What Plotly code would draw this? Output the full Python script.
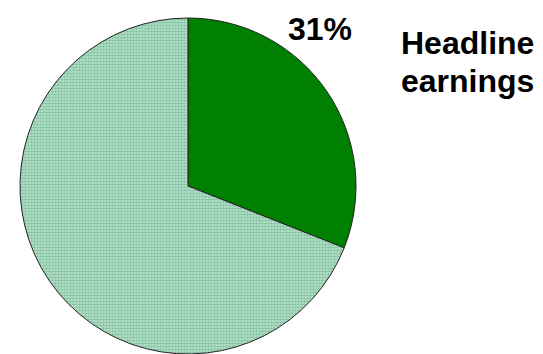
import plotly.graph_objects as go

labels = ["Headline earnings", "Other"]
values = [31, 69]
colors = ["#008000", "#c2e6d2"]
pct_label = "31%"
legend_lines = ["Headline", "earnings"]

W, H = 543, 354
fig = go.Figure(go.Pie(
    labels=labels, values=values, sort=False, direction="clockwise", rotation=0,
    marker=dict(colors=colors, line=dict(color="#222222", width=1),
                pattern=dict(shape=["", "."], fgcolor="#45a06f", size=3, solidity=0.6,
                             fillmode="overlay")),
    textinfo="none", hoverinfo="label+percent", showlegend=False,
    domain=dict(x=[20 / W, 356 / W], y=[0, 336 / H]),
))
font = dict(family="Liberation Sans, Arial", size=32, color="black")
fig.add_annotation(x=320 / W, y=1 - 28.5 / H, xref="paper", yref="paper",
                   text=f"<b>{pct_label}</b>", showarrow=False, font=font,
                   xanchor="center", yanchor="middle")
for i, line in enumerate(legend_lines):
    fig.add_annotation(x=467 / W, y=1 - (43 + 38 * i) / H, xref="paper", yref="paper",
                       text=f"<b>{line}</b>", showarrow=False, font=font,
                       xanchor="center", yanchor="middle")
fig.update_layout(width=W, height=H, margin=dict(l=0, r=0, t=0, b=0),
                  paper_bgcolor="white", plot_bgcolor="white")
fig.write_html("out.html")
